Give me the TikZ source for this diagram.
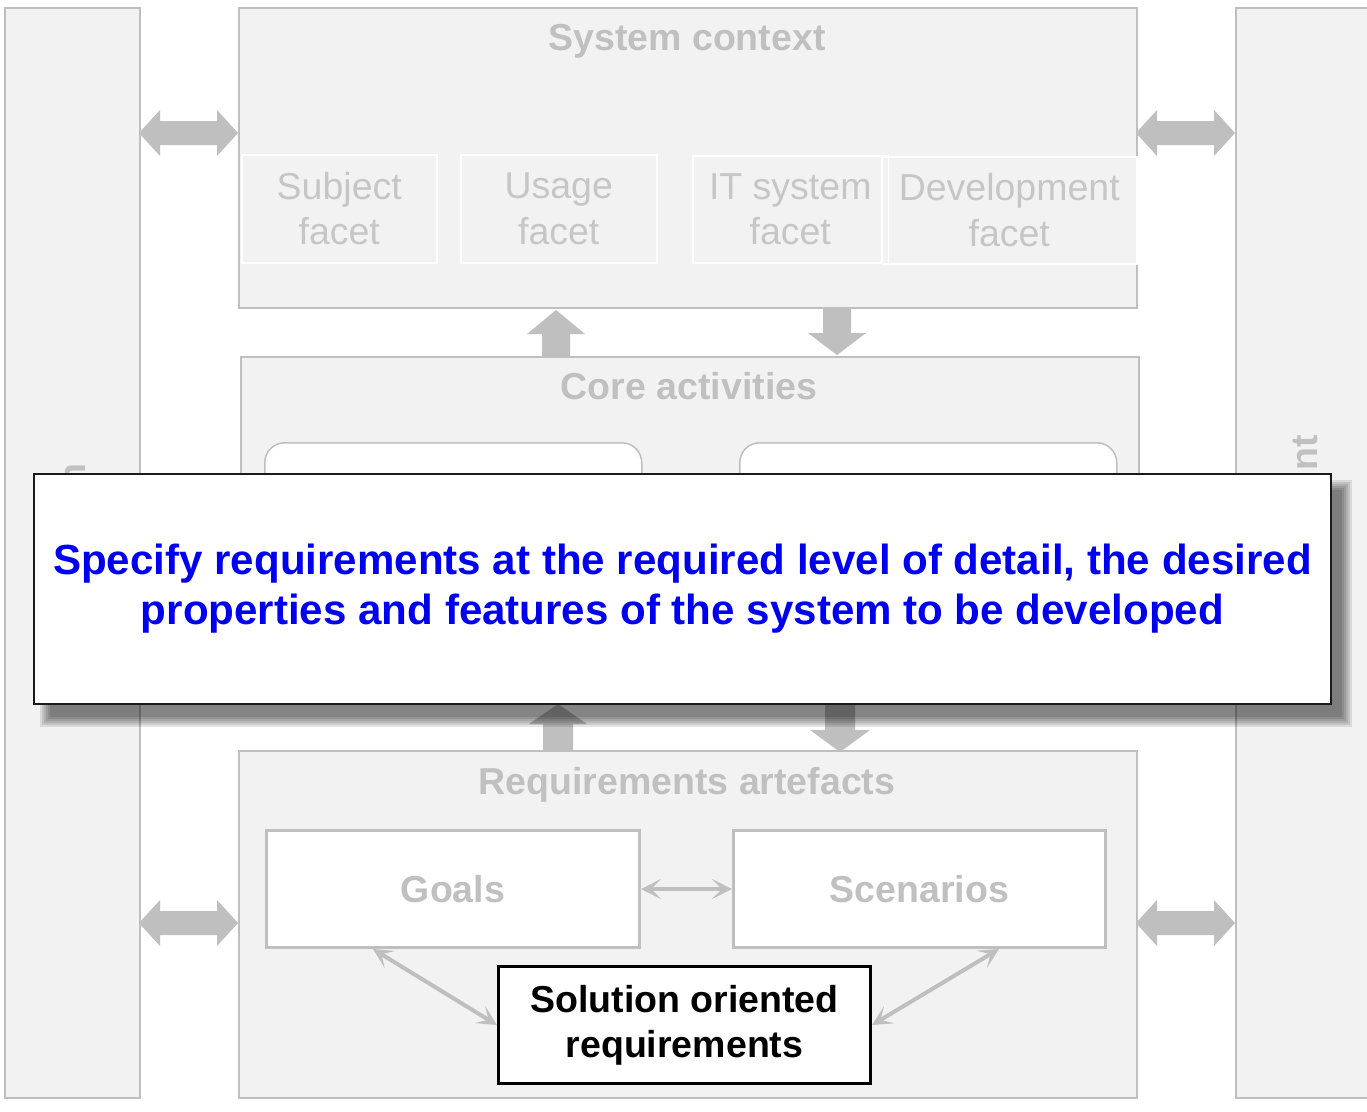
\documentclass[tikz,border=0pt]{standalone}
\usepackage{fontspec}
\setmainfont{Liberation Sans}
\usetikzlibrary{arrows.meta,calc}
\definecolor{gfill}{HTML}{F2F2F2}
\definecolor{gline}{HTML}{BFBFBF}
\definecolor{gtext}{HTML}{C0C0C0}
\definecolor{ftext}{HTML}{C6C6C6}
\definecolor{garrow}{HTML}{BFBFBF}
\definecolor{blueone}{HTML}{0000F0}
\definecolor{darkline}{HTML}{1A1A1A}
\newcommand\hdarrow[3]{%
  \fill[garrow] (#1,#3) -- ({#1+21},{#3-23}) -- ({#1+21},{#3-12}) -- ({#2-21},{#3-12}) -- ({#2-21},{#3-23}) -- (#2,#3)
   -- ({#2-21},{#3+23}) -- ({#2-21},{#3+12}) -- ({#1+21},{#3+12}) -- ({#1+21},{#3+23}) -- cycle;}
% up arrow: x, tip y, head base y, bottom y, head half, shaft half
\newcommand\uparrowblk[6]{%
  \fill[garrow] (#1,#2) -- ({#1+#5},#3) -- ({#1+#6},#3) -- ({#1+#6},#4) -- ({#1-#6},#4) -- ({#1-#6},#3) -- ({#1-#5},#3) -- cycle;}
% down arrow: x, top y, head start y, tip y, head half, shaft half
\newcommand\downarrowblk[6]{%
  \fill[garrow] (#1,#4) -- ({#1+#5},#3) -- ({#1+#6},#3) -- ({#1+#6},#2) -- ({#1-#6},#2) -- ({#1-#6},#3) -- ({#1-#5},#3) -- cycle;}
\begin{document}
\begin{tikzpicture}[x=1pt,y=-1pt,
  panel/.style={draw=gline, line width=1.5pt, fill=gfill, inner sep=0pt, anchor=north west},
  facet/.style={draw=white, line width=1.5pt, fill=gfill, inner sep=0pt, anchor=north west,
     align=center, text=ftext, font=\fontsize{37.5}{45.5}\selectfont},
  titletext/.style={text=gtext, font=\bfseries\fontsize{37.5}{45}\selectfont, anchor=base, inner sep=0pt},
  actbox/.style={draw=gline, line width=1.5pt, fill=white, rounded corners=20pt, inner sep=0pt, anchor=north west},
  artbox/.style={draw=gline, line width=3pt, fill=white, inner sep=0pt, anchor=north west,
     text=gtext, font=\bfseries\fontsize{37.5}{45}\selectfont},
  solbox/.style={draw=black, line width=3pt, fill=white, inner sep=0pt, anchor=north west, align=center,
     text=black, font=\bfseries\fontsize{37.5}{45}\selectfont},
  thinarrow/.style={draw=gline, line width=4pt,
     {Stealth[length=20pt,width=20pt,inset=10pt]}-{Stealth[length=20pt,width=20pt,inset=10pt]}},
  overlaybox/.style={draw=darkline, line width=2pt, fill=white, inner sep=0pt, anchor=north west, align=center,
     text=blueone, font=\bfseries\fontsize{42.1}{50}\selectfont}
]
\useasboundingbox (0,0) rectangle (1367,1111);
\fill[white] (0,0) rectangle (1367,1111);

% side columns
\node[panel, minimum width=135pt, minimum height=1090pt] (lcol) at (4,7) {};
\node[panel, minimum width=145pt, minimum height=1090pt] (rcol) at (1235,7) {};
\node[titletext, rotate=90, anchor=base east] (ltext) at (85,463) {n};
\node[titletext, rotate=90, anchor=base east] (rtext) at (1317,435) {nt};

% system context
\node[panel, minimum width=898pt, minimum height=300pt] (sys) at (238,7) {};
\node[titletext] (systitle) at (687,50) {System context};
\node[facet, minimum width=195pt, minimum height=108pt] (subj) at (241,154) {Subject\\facet};
\node[facet, minimum width=196pt, minimum height=108pt] (usage) at (460,154) {Usage\\facet};
\node[facet, minimum width=195pt, minimum height=107pt] (its) at (692,155) {IT system\\facet};
\node[facet, minimum width=255pt, minimum height=107pt] (dev) at (881,156) {Development\\facet};
\draw[white, line width=1.5pt] (its.north east) -- (its.south east);

% core activities
\node[panel, minimum width=898pt, minimum height=340pt] (core) at (240,356) {};
\node[titletext] (coretitle) at (689,399) {Core activities};
\node[actbox, minimum width=377pt, minimum height=160pt] (act1) at (264,442) {};
\node[actbox, minimum width=377pt, minimum height=160pt] (act2) at (739,442) {};

% requirements artefacts
\node[panel, minimum width=898pt, minimum height=347pt] (art) at (238,750) {};
\node[titletext] (arttitle) at (687,794) {Requirements artefacts};
\node[artbox, minimum width=373pt, minimum height=117pt] (goals) at (265,829) {Goals};
\node[artbox, minimum width=372pt, minimum height=117pt] (scen) at (732,829) {Scenarios};
\node[solbox, minimum width=372pt, minimum height=117pt] (sol) at (497,965) {Solution oriented\\requirements};

\draw[thinarrow] (goals.east) -- (scen.west);
\draw[thinarrow] ($(goals.south west)!0.287!(goals.south east)$) -- (sol.west);
\draw[thinarrow] ($(scen.south west)!0.712!(scen.south east)$) -- (sol.east);

% block arrows
\hdarrow{139}{238}{133}
\hdarrow{1136}{1235}{133}
\hdarrow{139}{238}{923}
\hdarrow{1136}{1235}{923}
\uparrowblk{556}{310}{334}{356}{29}{14}
\downarrowblk{837}{307}{333}{355}{29}{14}
\uparrowblk{558}{704}{724}{750}{29}{15}
\downarrowblk{840}{703}{730}{752}{30}{15}

% shadow of the overlay
\foreach \i in {0,...,5}{
  \fill[black, opacity=0.1] ({40+2*\i},{480+2*\i}) rectangle ({1352-2*\i},{727-2*\i});
}
% overlay
\node[overlaybox, minimum width=1297pt, minimum height=230pt] (note) at (33,473)
  {Specify requirements at the required level of detail, the desired\\properties and features of the system to be developed};
\end{tikzpicture}
\end{document}
